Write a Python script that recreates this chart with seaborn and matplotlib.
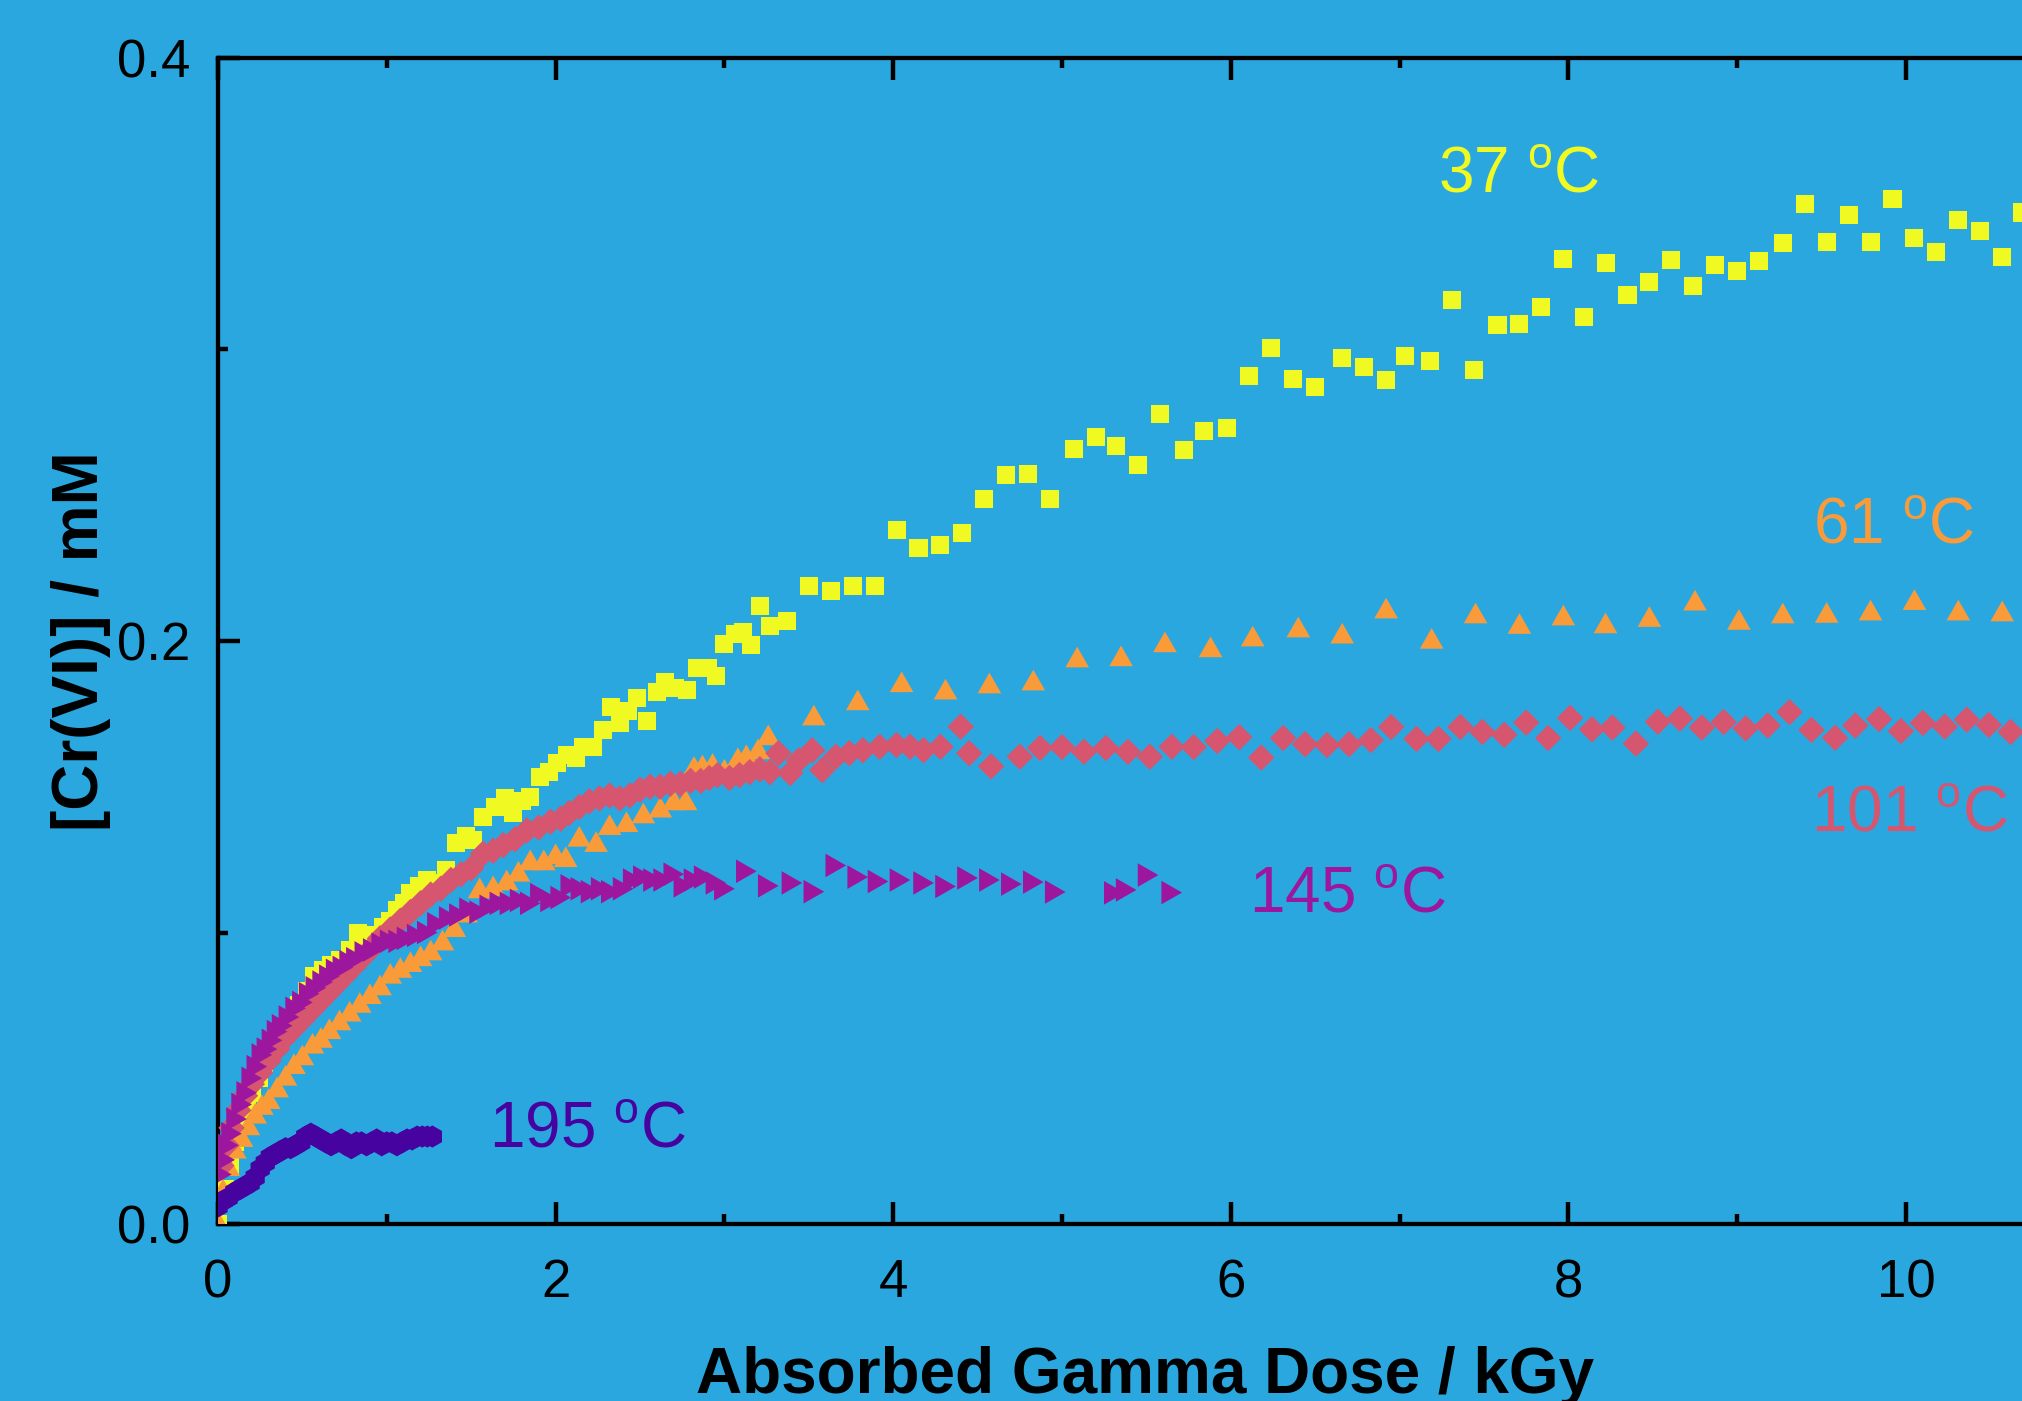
import matplotlib
matplotlib.use("Agg")
import matplotlib.pyplot as plt
import seaborn as sns
from matplotlib.ticker import MultipleLocator, FormatStrFormatter

# ---------------- data ----------------
x37 = [0.00, 0.04, 0.07, 0.10, 0.13, 0.17, 0.20, 0.24, 0.27, 0.30,
       0.33, 0.38, 0.43, 0.48, 0.53, 0.57, 0.62, 0.67, 0.72, 0.78,
       0.83, 0.86, 0.92, 0.98, 1.02, 1.06, 1.10, 1.14, 1.19, 1.24,
       1.29, 1.35, 1.41, 1.47, 1.51, 1.57, 1.64, 1.70, 1.75, 1.80,
       1.85, 1.91, 1.96, 2.01, 2.07, 2.12, 2.16, 2.22, 2.28, 2.33,
       2.38, 2.43, 2.48, 2.54, 2.60, 2.65, 2.71, 2.78, 2.84, 2.90,
       2.95, 3.00, 3.06, 3.11, 3.16, 3.21, 3.27, 3.37, 3.50, 3.63,
       3.76, 3.89, 4.02, 4.15, 4.28, 4.41, 4.54, 4.67, 4.80, 4.93,
       5.07, 5.20, 5.32, 5.45, 5.58, 5.72, 5.84, 5.98, 6.11, 6.24,
       6.37, 6.50, 6.66, 6.79, 6.92, 7.03, 7.18, 7.31, 7.44, 7.58,
       7.71, 7.84, 7.97, 8.09, 8.22, 8.35, 8.48, 8.61, 8.74, 8.87,
       9.00, 9.13, 9.27, 9.40, 9.53, 9.66, 9.79, 9.92, 10.05, 10.18,
       10.31, 10.44, 10.57, 10.69]
y37 = [0.000, 0.012, 0.020, 0.028, 0.035, 0.040, 0.045, 0.050, 0.055, 0.059,
       0.063, 0.0666, 0.070, 0.075, 0.080, 0.085, 0.087, 0.089, 0.0906, 0.094,
       0.0998, 0.095, 0.099, 0.102, 0.104, 0.1077, 0.110, 0.1135, 0.116, 0.118,
       0.117, 0.1214, 0.1307, 0.133, 0.1317, 0.1397, 0.143, 0.146, 0.141, 0.145,
       0.1466, 0.1534, 0.155, 0.158, 0.1609, 0.160, 0.1637, 0.1637, 0.1695, 0.1775,
       0.1719, 0.176, 0.1804, 0.1724, 0.1826, 0.186, 0.1839, 0.1832, 0.1907, 0.1907,
       0.188, 0.199, 0.2024, 0.203, 0.1986, 0.212, 0.205, 0.207, 0.219, 0.217,
       0.219, 0.219, 0.238, 0.232, 0.233, 0.237, 0.2487, 0.257, 0.2573, 0.2487,
       0.266, 0.270, 0.267, 0.2604, 0.278, 0.2655, 0.272, 0.273, 0.291, 0.3005,
       0.290, 0.287, 0.297, 0.294, 0.2896, 0.2978, 0.296, 0.317, 0.293, 0.3084,
       0.3086, 0.3146, 0.331, 0.311, 0.3297, 0.3187, 0.323, 0.3307, 0.3217, 0.329,
       0.327, 0.3304, 0.3366, 0.350, 0.3369, 0.3461, 0.3369, 0.3516, 0.3384, 0.3335,
       0.3444, 0.3407, 0.3317, 0.347]

x61 = [0.00, 0.03, 0.06, 0.10, 0.14, 0.18, 0.22, 0.26, 0.30, 0.35,
       0.40, 0.45, 0.50, 0.56, 0.61, 0.66, 0.72, 0.78, 0.84, 0.90,
       0.96, 1.02, 1.08, 1.14, 1.20, 1.26, 1.33, 1.40, 1.47, 1.55,
       1.63, 1.71, 1.78, 1.85, 1.93, 2.00, 2.06, 2.14, 2.24, 2.32,
       2.42, 2.52, 2.62, 2.70, 2.77, 2.82, 2.87, 2.93, 3.00, 3.08,
       3.13, 3.20, 3.26, 3.53, 3.79, 4.05, 4.31, 4.57, 4.83, 5.09,
       5.35, 5.61, 5.88, 6.13, 6.40, 6.66, 6.92, 7.19, 7.45, 7.71,
       7.97, 8.22, 8.48, 8.75, 9.01, 9.27, 9.53, 9.79, 10.05, 10.31,
       10.57]
y61 = [0.001, 0.012, 0.020, 0.026, 0.030, 0.034, 0.038, 0.041, 0.043, 0.047,
       0.051, 0.055, 0.058, 0.062, 0.064, 0.067, 0.070, 0.073, 0.076, 0.079,
       0.082, 0.086, 0.088, 0.090, 0.092, 0.094, 0.0974, 0.102, 0.107, 0.1153,
       0.116, 0.118, 0.121, 0.1249, 0.1249, 0.127, 0.126, 0.133, 0.1312, 0.137,
       0.138, 0.141, 0.143, 0.1455, 0.1455, 0.157, 0.1575, 0.158, 0.156, 0.160,
       0.161, 0.163, 0.1678, 0.1746, 0.1798, 0.186, 0.1835, 0.1856, 0.1866, 0.1945,
       0.1949, 0.1997, 0.198, 0.2017, 0.2048, 0.2027, 0.2113, 0.2009, 0.2096, 0.2060,
       0.2089, 0.2062, 0.2084, 0.214, 0.2074, 0.2096, 0.2098, 0.2106, 0.2142, 0.2106,
       0.2103]

x101 = [0.02, 0.05, 0.08, 0.12, 0.16, 0.20, 0.25, 0.30, 0.35, 0.40,
        0.45, 0.50, 0.55, 0.60, 0.65, 0.70, 0.75, 0.80, 0.85, 0.90,
        0.96, 1.02, 1.08, 1.14, 1.20, 1.26, 1.32, 1.38, 1.44, 1.50,
        1.57, 1.63, 1.69, 1.76, 1.83, 1.90, 1.97, 2.03, 2.08, 2.14,
        2.20, 2.26, 2.32, 2.38, 2.44, 2.50, 2.56, 2.62, 2.68, 2.74,
        2.80, 2.86, 2.91, 2.96, 3.03, 3.09, 3.15, 3.21, 3.27, 3.32,
        3.39, 3.44, 3.52, 3.58, 3.66, 3.74, 3.82, 3.92, 4.02, 4.10,
        4.18, 4.28, 4.40, 4.45, 4.58, 4.75, 4.87, 5.00, 5.13, 5.26,
        5.39, 5.52, 5.65, 5.78, 5.92, 6.05, 6.18, 6.31, 6.44, 6.57,
        6.70, 6.83, 6.95, 7.10, 7.23, 7.36, 7.49, 7.62, 7.75, 7.88,
        8.01, 8.14, 8.26, 8.40, 8.53, 8.66, 8.79, 8.92, 9.05, 9.18,
        9.31, 9.44, 9.58, 9.70, 9.84, 9.97, 10.10, 10.23, 10.36, 10.49,
        10.62]
y101 = [0.020, 0.027, 0.033, 0.039, 0.044, 0.048, 0.052, 0.056, 0.060, 0.064,
        0.067, 0.070, 0.073, 0.076, 0.079, 0.082, 0.085, 0.088, 0.091, 0.094,
        0.098, 0.101, 0.104, 0.107, 0.110, 0.113, 0.115, 0.118, 0.120, 0.122,
        0.127, 0.128, 0.130, 0.132, 0.135, 0.136, 0.138, 0.139, 0.141, 0.143,
        0.145, 0.146, 0.147, 0.146, 0.147, 0.149, 0.150, 0.150, 0.151, 0.151,
        0.152, 0.152, 0.153, 0.154, 0.153, 0.154, 0.155, 0.156, 0.155, 0.1615,
        0.1547, 0.159, 0.1625, 0.1557, 0.1603, 0.1615, 0.1625, 0.1637, 0.1643, 0.1637,
        0.1625, 0.1637, 0.1706, 0.1615, 0.157, 0.1603, 0.1633, 0.1636, 0.162, 0.1633,
        0.162, 0.1603, 0.1637, 0.1636, 0.1657, 0.167, 0.160, 0.1667, 0.1646, 0.1643,
        0.1646, 0.166, 0.1705, 0.1664, 0.1664, 0.1705, 0.1688, 0.1678, 0.172, 0.1667,
        0.1736, 0.1697, 0.1703, 0.1648, 0.1723, 0.1734, 0.1703, 0.1722, 0.170, 0.171,
        0.1756, 0.1695, 0.1668, 0.171, 0.1732, 0.1691, 0.1719, 0.1706, 0.173, 0.1712,
        0.1688]

x145 = [0.02, 0.04, 0.06, 0.08, 0.11, 0.14, 0.17, 0.20, 0.23, 0.26,
        0.29, 0.32, 0.35, 0.38, 0.42, 0.46, 0.50, 0.54, 0.58, 0.62,
        0.66, 0.70, 0.74, 0.78, 0.82, 0.87, 0.92, 0.97, 1.02, 1.07,
        1.12, 1.18, 1.24, 1.30, 1.37, 1.43, 1.49, 1.55, 1.61, 1.67,
        1.73, 1.79, 1.85, 1.91, 1.97, 2.03, 2.09, 2.15, 2.21, 2.27,
        2.33, 2.40, 2.46, 2.52, 2.58, 2.64, 2.70, 2.76, 2.82, 2.88,
        2.95, 3.00, 3.13, 3.26, 3.40, 3.53, 3.66, 3.79, 3.91, 4.04,
        4.18, 4.31, 4.44, 4.57, 4.70, 4.83, 4.96, 5.31, 5.38, 5.51,
        5.65]
y145 = [0.017, 0.022, 0.027, 0.031, 0.036, 0.041, 0.045, 0.050, 0.054, 0.058,
        0.060, 0.063, 0.066, 0.068, 0.071, 0.074, 0.076, 0.079, 0.081, 0.083,
        0.085, 0.087, 0.088, 0.090, 0.091, 0.093, 0.094, 0.096, 0.097, 0.097,
        0.098, 0.099, 0.100, 0.103, 0.105, 0.106, 0.108, 0.107, 0.109, 0.110,
        0.110, 0.111, 0.110, 0.113, 0.111, 0.112, 0.116, 0.115, 0.114, 0.115,
        0.114, 0.115, 0.118, 0.119, 0.118, 0.118, 0.120, 0.116, 0.118, 0.119,
        0.117, 0.115, 0.121, 0.116, 0.117, 0.114, 0.123, 0.119, 0.1175, 0.118,
        0.117, 0.1158, 0.1187, 0.118, 0.1166, 0.1173, 0.1139, 0.1136, 0.1146, 0.1197,
        0.1137]

x195 = [0.00, 0.03, 0.06, 0.10, 0.13, 0.16, 0.19, 0.22, 0.25, 0.28,
        0.31, 0.34, 0.37, 0.40, 0.43, 0.46, 0.49, 0.52, 0.55, 0.58,
        0.61, 0.64, 0.67, 0.70, 0.73, 0.76, 0.79, 0.82, 0.85, 0.88,
        0.91, 0.94, 0.97, 1.00, 1.03, 1.06, 1.09, 1.12, 1.15, 1.18,
        1.21, 1.24, 1.27]
y195 = [0.006, 0.008, 0.009, 0.011, 0.012, 0.013, 0.014, 0.016, 0.019, 0.021,
        0.023, 0.024, 0.025, 0.026, 0.026, 0.027, 0.028, 0.030, 0.031, 0.030,
        0.029, 0.028, 0.027, 0.028, 0.029, 0.027, 0.026, 0.028, 0.028, 0.027,
        0.028, 0.029, 0.027, 0.028, 0.028, 0.027, 0.028, 0.029, 0.029, 0.030,
        0.030, 0.030, 0.030]

labels = ["37", "61", "101", "145", "195"]
label_x = [7.23, 9.45, 9.44, 6.11, 1.605]
label_y = [0.3537, 0.2333, 0.1345, 0.107, 0.0264]

x_ticks = [0, 2, 4, 6, 8, 10]
y_ticks = [0.0, 0.2, 0.4]

# ---------------- style ----------------
BG = "#2BA7E0"
colors = ["#F0F921", "#FA9B3A", "#D5566E", "#9C179E", "#46039F"]

sns.set_style("ticks")
plt.rcParams['font.family'] = ['Liberation Sans', 'DejaVu Sans']
plt.rcParams['mathtext.fontset'] = 'custom'
plt.rcParams['mathtext.rm'] = 'Liberation Sans'
plt.rcParams['mathtext.it'] = 'Liberation Sans'
plt.rcParams['mathtext.bf'] = 'Liberation Sans:bold'
for key in ['text.color', 'axes.labelcolor', 'xtick.color', 'ytick.color',
            'xtick.labelcolor', 'ytick.labelcolor', 'axes.edgecolor']:
    plt.rcParams[key] = 'black'

fig = plt.figure(figsize=(20.22, 14.01), dpi=100, facecolor=BG)
ax = fig.add_axes([218 / 2022, 177 / 1401, 11 * 168.8 / 2022, 1166 / 1401])
ax.set_facecolor(BG)

tri_up = [(0, 0.875), (-1, -0.875), (1, -0.875)]
tri_right = [(0.875, 0), (-0.875, 1), (-0.875, -1)]

series = [
    (x37, y37, 's', 13.0 ** 2),
    (x61, y61, tri_up, 17.0 ** 2),
    (x101, y101, 'D', 13.5 ** 2),
    (x145, y145, tri_right, 17.0 ** 2),
    (x195, y195, 'h', 16.0 ** 2),
]
for i, (xs, ys, mk, sz) in enumerate(series):
    sns.scatterplot(x=xs, y=ys, ax=ax, marker=mk, s=sz, color=colors[i],
                    linewidth=0, edgecolor='none', legend=False, zorder=3 + i)

for i, lab in enumerate(labels):
    ax.text(label_x[i], label_y[i], lab + r" $^{\mathregular{o}}$C",
            color=colors[i], fontsize=46, ha='left', va='baseline', zorder=10)

ax.set_xlim(0, 11)
ax.set_ylim(0, 0.4)
ax.set_xticks(x_ticks)
ax.set_yticks(y_ticks)
ax.xaxis.set_minor_locator(MultipleLocator(1))
ax.yaxis.set_minor_locator(MultipleLocator(0.1))
ax.yaxis.set_major_formatter(FormatStrFormatter('%.1f'))
ax.xaxis.set_major_formatter(FormatStrFormatter('%d'))

for side in ['left', 'bottom', 'top']:
    ax.spines[side].set_linewidth(3.1)
    ax.spines[side].set_color('black')
ax.spines['right'].set_visible(False)

ax.tick_params(which='both', direction='in', top=True, right=False,
               width=3.2, color='black', labelcolor='black')
ax.tick_params(which='major', length=15.8)
ax.tick_params(which='minor', length=7.5)
ax.tick_params(axis='x', which='major', labelsize=38, pad=24.5)
ax.tick_params(axis='y', which='major', labelsize=38, pad=20)

ax.set_xlabel("Absorbed Gamma Dose / kGy", fontsize=46, fontweight='bold',
              color='black')
ax.xaxis.label.set_va('baseline')
ax.xaxis.set_label_coords(0.4995, -0.1449)
ax.set_ylabel("[Cr(VI)] / mM", fontsize=46, fontweight='bold', color='black')
ax.yaxis.label.set_va('center')
ax.yaxis.set_label_coords(-0.0740, 0.5)

fig.savefig("out.png", dpi=100, facecolor=BG)
